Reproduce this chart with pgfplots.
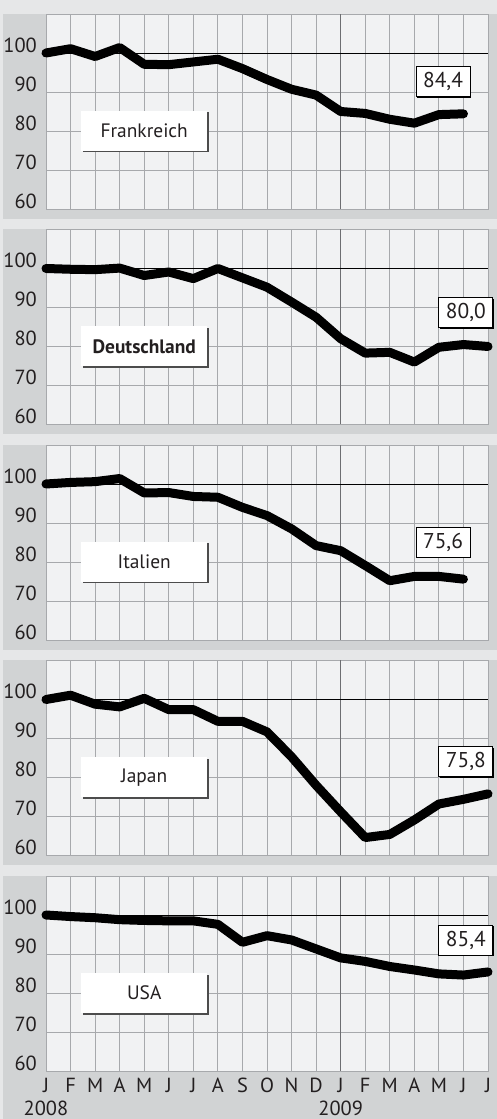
\documentclass[border=0pt]{standalone}
\usepackage{pgfplots}
\pgfplotsset{compat=1.18}
\usepackage{fontspec}
\setmainfont{PT Sans}
\usetikzlibrary{shadows}
\definecolor{outerbg}{HTML}{E6E7E8}
\definecolor{panelbg}{HTML}{D1D3D4}
\definecolor{plotbg}{HTML}{F1F2F3}
\definecolor{gridc}{HTML}{A7A9AC}
\definecolor{yeargrid}{HTML}{6D6E71}
\definecolor{txt}{HTML}{231F20}
\pgfplotsset{
 panel/.style={
  scale only axis, width=442bp, height=195bp,
  xmin=0, xmax=18, ymin=60, ymax=110,
  xtick={0,...,18}, ytick={60,70,80,90,100,110},
  yticklabels={60,70,80,90,100,},
  xticklabels={},
  grid=major, major grid style={gridc, line width=0.9bp},
  major tick length=0pt,
  axis line style={gridc, line width=0.9bp},
  axis background/.style={fill=plotbg},
  yticklabel style={anchor=base east, inner sep=0pt, xshift=-9bp, yshift=0.5bp, font=\fontsize{20.5}{20.5}\selectfont, text=txt},
  clip=false,
  extra x ticks={12}, extra x tick labels={}, extra x tick style={major grid style={yeargrid, line width=1bp}},
 },
 dataline/.style={black, line width=9bp, line join=round, line cap=round},
 refline/.style={black, line width=0.9bp},
}
\tikzset{
 cbox/.style={fill=white, minimum width=126bp, minimum height=40bp, inner sep=0pt, text=txt, font=\fontsize{19.5}{19.5}\selectfont, general shadow={fill=black!70, shadow xshift=1.5bp, shadow yshift=-1.5bp}},
 vbox/.style={fill=white, draw=black, line width=1.1bp, minimum width=54bp, minimum height=30bp, inner sep=0pt, text=txt, font=\fontsize{21.5}{21.5}\selectfont, general shadow={fill=black, shadow xshift=1bp, shadow yshift=-1bp}},
 yr/.style={anchor=base, font=\fontsize{20.5}{20.5}\selectfont, text=txt},
}
\begin{document}
\begin{tikzpicture}[x=1bp,y=1bp]
\fill[outerbg] (0,0) rectangle (497,1119);
\fill[panelbg] (3,900) rectangle (497,1105);
\fill[panelbg] (3,684.5) rectangle (497,889.5);
\fill[panelbg] (3,469) rectangle (497,674);
\fill[panelbg] (3,253.5) rectangle (497,458.5);
\fill[panelbg] (3,0) rectangle (497,243);

% Frankreich
\begin{axis}[panel, at={(46bp,910bp)}]
\addplot[refline] coordinates {(0,100) (18,100)};
\addplot[dataline] coordinates {(0,100) (1,101.1) (2,99.1) (3,101.4) (4,97.1) (5,97.0) (6,97.7) (7,98.4) (8,96.0) (9,93.2) (10,90.7) (11,89.2) (12,85.0) (13,84.5) (14,83.0) (15,82.0) (16,84.2) (17,84.4)};
\node[cbox] at (axis cs:4,80) {Frankreich};
\node[vbox] at (axis cs:16.17,92.6) {84,4};
\end{axis}

% Deutschland
\begin{axis}[panel, at={(46bp,694.5bp)}]
\addplot[refline] coordinates {(0,100) (18,100)};
\addplot[dataline] coordinates {(0,100) (1,99.8) (2,99.7) (3,100.1) (4,98.2) (5,99.1) (6,97.4) (7,100) (8,97.6) (9,95.2) (10,91.4) (11,87.5) (12,82.0) (13,78.3) (14,78.5) (15,76.0) (16,79.8) (17,80.5) (18,80.0)};
\node[cbox, font=\fontsize{19.5}{19.5}\selectfont\bfseries] at (axis cs:4,80) {Deutschland};
\node[vbox] at (axis cs:17.1,88.6) {80,0};
\end{axis}

% Italien
\begin{axis}[panel, at={(46bp,479bp)}]
\addplot[refline] coordinates {(0,100) (18,100)};
\addplot[dataline] coordinates {(0,100) (1,100.4) (2,100.6) (3,101.4) (4,97.7) (5,97.8) (6,96.8) (7,96.6) (8,94.0) (9,91.9) (10,88.5) (11,84.2) (12,82.9) (13,79.1) (14,75.2) (15,76.3) (16,76.3) (17,75.6)};
\node[cbox] at (axis cs:4,80) {Italien};
\node[vbox] at (axis cs:16.17,85.1) {75,6};
\end{axis}

% Japan
\begin{axis}[panel, at={(46bp,263.5bp)}]
\addplot[refline] coordinates {(0,100) (18,100)};
\addplot[dataline] coordinates {(0,100) (1,101.1) (2,98.8) (3,98.1) (4,100.3) (5,97.4) (6,97.4) (7,94.4) (8,94.4) (9,91.7) (10,85.3) (11,78.0) (12,71.2) (13,64.6) (14,65.4) (15,69.1) (16,73.2) (17,74.4) (18,75.8)};
\node[cbox] at (axis cs:4,80) {Japan};
\node[vbox] at (axis cs:17.1,84.1) {75,8};
\end{axis}

% USA
\begin{axis}[panel, at={(46bp,48bp)},
  xticklabels={J,F,M,A,M,J,J,A,S,O,N,D,J,F,M,A,M,J,J},
  xticklabel style={anchor=base, yshift=-22bp, inner sep=0pt, font=\fontsize{20.5}{20.5}\selectfont, text=txt}]
\addplot[refline] coordinates {(0,100) (18,100)};
\addplot[dataline] coordinates {(0,100) (1,99.6) (2,99.3) (3,98.8) (4,98.6) (5,98.5) (6,98.5) (7,97.6) (8,93.0) (9,94.7) (10,93.6) (11,91.3) (12,89.0) (13,88.1) (14,86.8) (15,85.9) (16,84.9) (17,84.6) (18,85.4)};
\node[cbox] at (axis cs:4,80) {USA};
\node[vbox] at (axis cs:17.1,93.5) {85,4};
\node[yr] at (axis cs:0,60) [yshift=-44bp] {2008};
\node[yr] at (axis cs:12,60) [yshift=-44bp] {2009};
\end{axis}
\pgfresetboundingbox
\path[use as bounding box] (0,0) rectangle (497,1119);
\end{tikzpicture}
\end{document}
